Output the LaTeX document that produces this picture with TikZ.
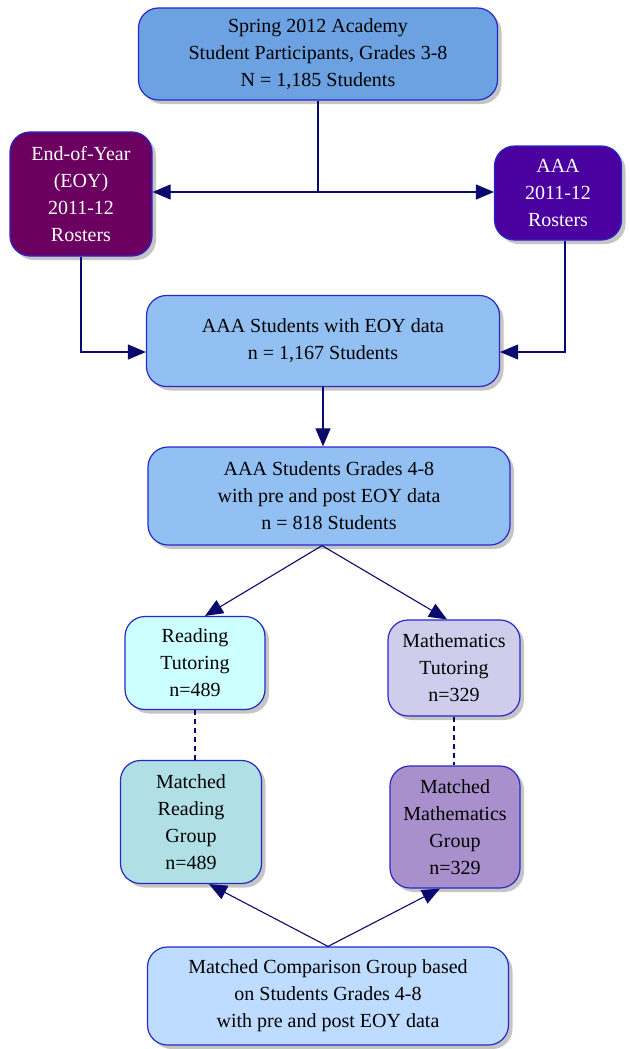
\documentclass[tikz,border=0pt]{standalone}
\usepackage{fontspec}
\setmainfont{Liberation Serif}
\usepackage{tikz}
\usetikzlibrary{positioning,arrows.meta,shadows,calc}
\usepackage{xcolor}
\definecolor{topblue}{RGB}{108,162,226}
\definecolor{midblue}{RGB}{146,192,242}
\definecolor{compblue}{RGB}{190,220,255}
\definecolor{eoyplum}{RGB}{107,0,96}
\definecolor{aaaindigo}{RGB}{75,0,160}
\definecolor{readcyan}{RGB}{204,255,255}
\definecolor{mathlav}{RGB}{208,204,236}
\definecolor{mreadblue}{RGB}{176,224,230}
\definecolor{mmathpurple}{RGB}{168,144,204}
\definecolor{boxedge}{RGB}{40,40,200}
\definecolor{navy}{RGB}{10,10,110}

\tikzset{
  flowbox/.style={rectangle,rounded corners=20pt,draw=boxedge,line width=1.2pt,
    align=center,font=\fontsize{20}{27}\selectfont,inner sep=2pt,
    drop shadow={shadow xshift=4pt,shadow yshift=-4pt,fill=black!45}},
  flowarrow/.style={draw=navy,line width=1.1pt,-{Triangle[length=18pt,width=15pt]}},
  flowline/.style={draw=navy,line width=1.1pt},
  matchline/.style={draw=navy,line width=1.1pt,dashed,dash pattern=on 5pt off 4pt}
}

\begin{document}
\begin{tikzpicture}[x=1pt,y=-1pt]
\useasboundingbox (0,0) rectangle (629,1049);

% boxes
\node[flowbox,fill=topblue,minimum width=359pt,minimum height=92pt] (spring) at (318,54)
  {Spring 2012 Academy\\Student Participants, Grades 3-8\\N = 1,185 Students};
\node[flowbox,fill=eoyplum,text=white,minimum width=142pt,minimum height=124pt] (eoy) at (81,194)
  {End-of-Year\\(EOY)\\2011-12\\Rosters};
\node[flowbox,fill=aaaindigo,text=white,minimum width=127pt,minimum height=94pt] (aaa) at (558,193)
  {AAA\\2011-12\\Rosters};
\node[flowbox,fill=midblue,minimum width=353pt,minimum height=91pt] (witheoy) at (323,341)
  {AAA Students with EOY data\\n = 1,167 Students};
\node[flowbox,fill=midblue,minimum width=362pt,minimum height=98pt] (prepost) at (329,496)
  {AAA Students Grades 4-8\\with pre and post EOY data\\n = 818 Students};
\node[flowbox,fill=readcyan,minimum width=140pt,minimum height=93pt] (reading) at (195,663)
  {Reading\\Tutoring\\n=489};
\node[flowbox,fill=mathlav,minimum width=132pt,minimum height=96pt] (math) at (454,668)
  {Mathematics\\Tutoring\\n=329};
\node[flowbox,fill=mreadblue,minimum width=141pt,minimum height=123pt] (mreading) at (191,822)
  {Matched\\Reading\\Group\\n=489};
\node[flowbox,fill=mmathpurple,minimum width=130pt,minimum height=122pt] (mmath) at (455,827)
  {Matched\\Mathematics\\Group\\n=329};
\node[flowbox,fill=compblue,minimum width=361pt,minimum height=98pt] (comparison) at (328,996)
  {Matched Comparison Group based\\on Students Grades 4-8\\with pre and post EOY data};

% connectors
\coordinate (split) at (spring.south |- 0,192);
\draw[flowline] (spring.south) -- (split);
\draw[flowarrow] (split) -- (split -| eoy.east);
\draw[flowarrow] (split) -- (split -| aaa.west);
\draw[flowarrow] (eoy.south) |- ([yshift=-11pt]witheoy.west);
\draw[flowarrow] ([xshift=7pt]aaa.south) |- ([yshift=-11pt]witheoy.east);
\draw[flowarrow] (witheoy.south) -- (witheoy.south |- prepost.north);
\draw[flowarrow] ([xshift=-7pt]prepost.south) -- ([xshift=10pt]reading.north);
\draw[flowarrow] ([xshift=-7pt]prepost.south) -- ([xshift=-7pt]math.north);
\draw[matchline] (reading.south) -- (reading.south |- mreading.north);
\draw[matchline] (math.south) -- (math.south |- mmath.north);
\draw[flowarrow] (comparison.north) -- ([xshift=18pt]mreading.south);
\draw[flowarrow] (comparison.north) -- ([xshift=-15pt]mmath.south);
\end{tikzpicture}
\end{document}
